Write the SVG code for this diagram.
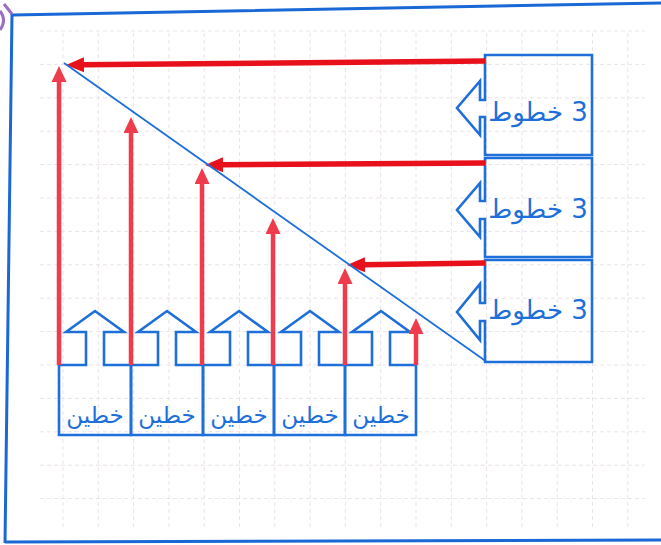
<svg xmlns="http://www.w3.org/2000/svg" width="661" height="545" viewBox="0 0 661 545">
<style>
.grid{stroke:#ebe3eb;stroke-width:1;stroke-dasharray:4 3;fill:none}
.box{fill:none;stroke:#1e6fd9;stroke-width:2.6;stroke-linejoin:miter}
.lbl{fill:#1e6fd9;font-family:"DejaVu Sans",sans-serif;text-anchor:middle;direction:rtl}
.r3{font-size:26px}
.r2{font-size:23px}
.up{stroke:#ef3c4c;stroke-width:4.5;fill:none;marker-end:url(#hu)}
.left{stroke:#e8111b;stroke-width:5.5;fill:none;marker-end:url(#hl)}
.diag{stroke:#1e6fd9;stroke-width:1.8;fill:none}
.frame{stroke:#1a68d6;stroke-width:3;fill:none}
</style>
<defs>
<marker id="hu" markerUnits="userSpaceOnUse" viewBox="0 0 16 15" markerWidth="16" markerHeight="15" refX="2" refY="7.5" orient="auto">
<path d="M0,0 L16,7.5 L0,15 z" fill="#ef3c4c"/>
</marker>
<marker id="hl" markerUnits="userSpaceOnUse" viewBox="0 0 18 15" markerWidth="18" markerHeight="15" refX="2" refY="7.5" orient="auto">
<path d="M0,0 L18,7.5 L0,15 z" fill="#e8111b"/>
</marker>
</defs>
<rect width="661" height="545" fill="#ffffff"/>
<g id="grid" class="grid">
<path d="M63,33V530 M98.3,33V530 M133.6,33V530 M168.9,33V530 M204.2,33V530 M239.5,33V530 M274.8,33V530 M310.1,33V530 M345.4,33V530 M380.7,33V530 M416,33V530 M451.3,33V530 M486.6,33V530 M521.9,33V530 M557.2,33V530 M592.5,33V530 M627.8,33V530"/>
<path d="M40,31H645 M40,64.4H645 M40,97.8H645 M40,131.2H645 M40,164.6H645 M40,198H645 M40,231.4H645 M40,264.8H645 M40,298.2H645 M40,331.6H645 M40,365H645 M40,398.4H645 M40,431.8H645 M40,465.2H645 M40,498.6H645"/>
</g>
<g id="frame">
<path class="frame" d="M12,15 L663,3 M5,542 L663,540 M12,14 L5,543"/>
<path d="M12,14 L4,4 M0,11 Q7,20 0,30" stroke="#9a6ec4" stroke-width="3" fill="none"/>
</g>
<g id="box-r1">
<path class="box" d="M485,117 L485,155 L592,155 L592,55 L485,55 L485,100 L480,100 L480,81 L457,108 L480,135 L480,117 Z"/>
<text class="lbl r3" x="538" y="121">3 خطوط</text>
</g>
<g id="box-r2">
<path class="box" d="M485,219 L485,257 L592,257 L592,158 L485,158 L485,201 L480,201 L480,183 L457,210 L480,237 L480,219 Z"/>
<text class="lbl r3" x="538" y="218">3 خطوط</text>
</g>
<g id="box-r3">
<path class="box" d="M485,321 L485,362 L592,362 L592,260 L485,260 L485,303 L480,303 L480,284 L457,312 L480,340 L480,321 Z"/>
<text class="lbl r3" x="538" y="319">3 خطوط</text>
</g>
<g id="box-b1">
<path class="box" d="M86,365 L86,332 L66,332 L95,311 L124,332 L104,332 L104,365 L131,365 L131,435 L59,435 L59,365 Z"/>
<text class="lbl r2" x="95" y="423">خطين</text>
</g>
<g id="box-b2">
<path class="box" d="M158,365 L158,332 L138,332 L167,311 L196,332 L176,332 L176,365 L203,365 L203,435 L131,435 L131,365 Z"/>
<text class="lbl r2" x="167" y="423">خطين</text>
</g>
<g id="box-b3">
<path class="box" d="M230,365 L230,332 L210,332 L239,311 L268,332 L248,332 L248,365 L274,365 L274,435 L203,435 L203,365 Z"/>
<text class="lbl r2" x="239" y="423">خطين</text>
</g>
<g id="box-b4">
<path class="box" d="M301,365 L301,332 L281,332 L310,311 L339,332 L319,332 L319,365 L345,365 L345,435 L274,435 L274,365 Z"/>
<text class="lbl r2" x="310" y="423">خطين</text>
</g>
<g id="box-b5">
<path class="box" d="M372,365 L372,332 L352,332 L381,311 L410,332 L390,332 L390,365 L416,365 L416,435 L345,435 L345,365 Z"/>
<text class="lbl r2" x="381" y="423">خطين</text>
</g>
<g id="connectors">
<path class="up" d="M59,365 L59,80"/>
<path class="up" d="M131,365 L131,131"/>
<path class="up" d="M202,365 L202,182"/>
<path class="up" d="M273,365 L273,232"/>
<path class="up" d="M345,365 L345,282"/>
<path class="up" d="M416,365 L416,332"/>
<path class="left" d="M485,61 L82,64.8"/>
<path class="left" d="M485,163 L221,164.8"/>
<path class="left" d="M485,263 L363,264.8"/>
<path class="diag" d="M64,63 L487,362"/>
</g>
</svg>
